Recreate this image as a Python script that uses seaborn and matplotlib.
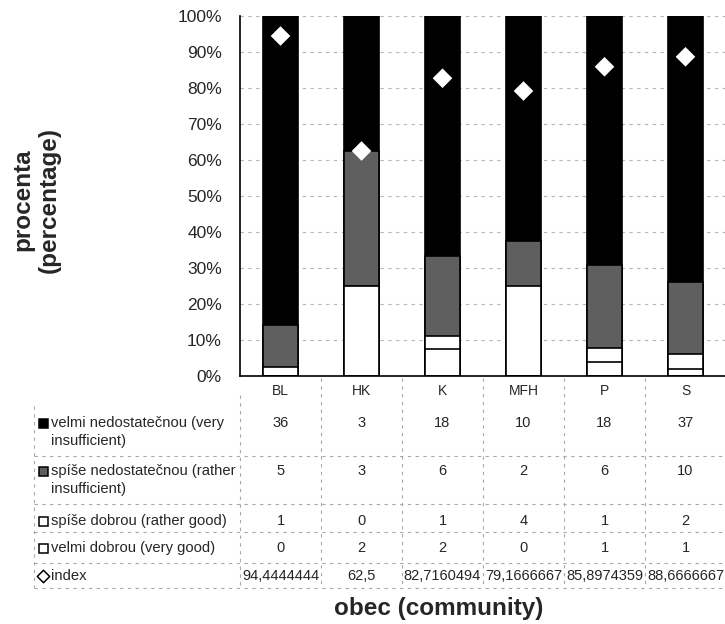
import numpy as np
import matplotlib
matplotlib.use("Agg")
import matplotlib.pyplot as plt
import seaborn as sns
from matplotlib.patches import Rectangle

sns.set_style("white")
plt.rcParams["font.family"] = ["Liberation Sans", "DejaVu Sans"]

# data
communities = ["BL", "HK", "K", "MFH", "P", "S"]
very_insufficient = [36, 3, 18, 10, 18, 37]
rather_insufficient = [5, 3, 6, 2, 6, 10]
rather_good = [1, 0, 1, 4, 1, 2]
very_good = [0, 2, 2, 0, 1, 1]
index_vals = [94.4444444, 62.5, 82.7160494, 79.1666667, 85.8974359, 88.6666667]

row_labels = [
    "velmi nedostatečnou (very\ninsufficient)",
    "spíše nedostatečnou (rather\ninsufficient)",
    "spíše dobrou (rather good)",
    "velmi dobrou (very good)",
    "index",
]

vi = np.array(very_insufficient, float)
ri = np.array(rather_insufficient, float)
rg = np.array(rather_good, float)
vg = np.array(very_good, float)
total = vi + ri + rg + vg
cum_vg = vg / total * 100
cum_rg = (vg + rg) / total * 100
cum_ri = (vg + rg + ri) / total * 100
cum_all = total / total * 100

W, H = 725, 624
fig = plt.figure(figsize=(W / 100, H / 100), dpi=100)
fig.patch.set_facecolor("white")

# main plot area in pixel layout
left, right, top, bottom = 240, 726, 16, 376
ax = fig.add_axes([left / W, (H - bottom) / H, (right - left) / W, (bottom - top) / H])

gray = "#5f5f5f"
bw = 0.42
for heights, col in [(cum_all, "black"), (cum_ri, gray), (cum_rg, "white"), (cum_vg, "white")]:
    sns.barplot(x=communities, y=heights, color=col, edgecolor="black",
                linewidth=1.2, width=bw, saturation=1, ax=ax)

sns.scatterplot(x=communities, y=index_vals, marker="D", s=100, color="white",
                edgecolor="none", zorder=6, ax=ax, legend=False)

ax.set_xlim(-0.5, len(communities) - 0.5)
ax.set_ylim(0, 100)
ax.set_yticks(np.arange(0, 101, 10))
ax.set_yticklabels([f"{v}%" for v in range(0, 101, 10)], fontsize=12.5)
ax.yaxis.grid(True, linestyle=(0, (3, 4)), color="#b5b5b5", linewidth=0.8)
ax.xaxis.grid(False)
ax.set_axisbelow(True)
ax.tick_params(axis="y", length=0, pad=13)
ax.tick_params(axis="x", length=0, pad=6, labelsize=10)
ax.set_xlabel("")
ax.set_ylabel("")
for s in ["top", "right"]:
    ax.spines[s].set_visible(False)
for s in ["left", "bottom"]:
    ax.spines[s].set_color("black")
    ax.spines[s].set_linewidth(1.2)

# overlay in pixel coordinates for the data table and titles
ov = fig.add_axes([0, 0, 1, 1])
ov.set_xlim(0, W)
ov.set_ylim(H, 0)
ov.axis("off")
ov.patch.set_visible(False)

col_w = (right - left) / len(communities)
grid_kw = dict(color="#a8a8a8", linewidth=0.8, linestyle=(0, (3, 4)))
tab_left = 34
row_lines = [456, 504, 532, 563, 588]
for y in row_lines:
    ov.plot([tab_left, right], [y, y], **grid_kw)
for k in range(1, len(communities) + 1):
    ov.plot([left + k * col_w] * 2, [378, 588], **grid_kw)
ov.plot([left, left], [395, 588], **grid_kw)
ov.plot([tab_left, tab_left], [406, 588], **grid_kw)

row_y = [423, 471, 521, 548, 576]
series = [very_insufficient, rather_insufficient, rather_good, very_good]
keys = [("black", "black"), (gray, "black"), ("white", "black"), ("white", "black")]
for r, (lab, y0) in enumerate(zip(row_labels, row_y)):
    for j, line in enumerate(lab.split("\n")):
        ov.text(51, y0 + 18 * j, line, fontsize=10.6, ha="left", va="center")
    if r < 4:
        ov.add_patch(Rectangle((39, y0 - 4.5), 9, 9, facecolor=keys[r][0],
                               edgecolor=keys[r][1], linewidth=1.1))
        vals = [str(v) for v in series[r]]
    else:
        ov.scatter([43.5], [y0], marker="D", s=40, facecolor="white",
                   edgecolor="black", linewidth=1.1)
        vals = [f"{v:.7f}".rstrip("0").rstrip(".").replace(".", ",") for v in index_vals]
    for i, v in enumerate(vals):
        ov.text(left + (i + 0.5) * col_w, y0, v, fontsize=10.5, ha="center", va="center")

ov.text(36, 200, "procenta\n(percentage)", rotation=90, ha="center", va="center",
        fontsize=17.5, fontweight="bold", linespacing=1.15)
ov.text(439, 609, "obec (community)", ha="center", va="center",
        fontsize=17.5, fontweight="bold")

fig.savefig("out.png", dpi=100)
